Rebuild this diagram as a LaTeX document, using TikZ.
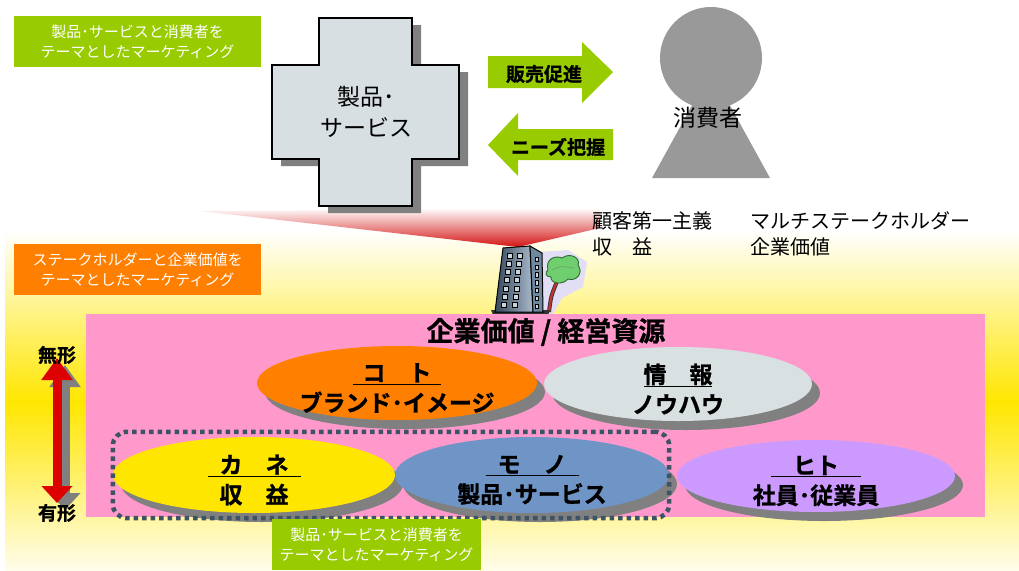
\documentclass[tikz,border=0pt]{standalone}
\usepackage{fontspec}
\setmainfont{Noto Sans CJK JP}[BoldFont={Noto Sans CJK JP Bold}, BoldFeatures={FakeBold=1}]
\usepackage{tikz}
\usetikzlibrary{
  arrows.meta,
  positioning,
  shapes.geometric,
  shadows,
  fit,
  calc,
}
\definecolor{themeGreen}{HTML}{99CC00}
\definecolor{themeOrange}{HTML}{FF8000}
\definecolor{crossFill}{HTML}{D7DFE2}
\definecolor{shadowGray}{HTML}{808080}
\definecolor{personGray}{HTML}{999999}
\definecolor{bandYellow}{HTML}{FFE600}
\definecolor{valuePink}{HTML}{FF99CC}
\definecolor{kotoOrange}{HTML}{FF8000}
\definecolor{infoGray}{HTML}{D8E0E2}
\definecolor{kaneYellow}{HTML}{FFE600}
\definecolor{monoBlue}{HTML}{6F94C6}
\definecolor{hitoViolet}{HTML}{CC99FF}
\definecolor{dotSlate}{HTML}{3E5364}
\definecolor{beamRed}{HTML}{D41414}
\definecolor{arrowRed}{HTML}{DD0000}
\definecolor{towerDark}{HTML}{34485C}
\definecolor{towerLight}{HTML}{A9BACA}
\definecolor{towerSide}{HTML}{6F88A0}
\definecolor{paneGray}{HTML}{C9D3DC}
\definecolor{treeGreen}{HTML}{6FCF6F}
\definecolor{treeDark}{HTML}{2E6B2E}
\definecolor{trunkRed}{HTML}{C83232}
\definecolor{haloLilac}{HTML}{E2DEF6}

% underlined heading with a fixed rule length
\newcommand{\resHead}[2]{\underline{\makebox[#1]{#2}}}

\tikzset{
  themeBox/.style={
    rectangle, fill=#1, text=white, inner sep=0pt, minimum height=51pt,
    align=center, font=\fontsize{15}{20}\selectfont,
  },
  flowText/.style={
    inner sep=0pt, font=\bfseries\fontsize{19}{22}\selectfont,
  },
  bigText/.style={
    inner sep=0pt, align=center, font=\fontsize{23}{31}\selectfont,
  },
  keyword/.style={
    anchor=west, inner sep=0pt, font=\fontsize{20}{22}\selectfont,
  },
  resource/.style={
    ellipse, fill=#1, minimum width=280pt, minimum height=74pt, inner sep=0pt,
    general shadow={fill=shadowGray, shadow xshift=8pt, shadow yshift=-9pt},
  },
  resText/.style={
    inner sep=0pt, align=center, yshift=-5pt,
    font=\bfseries\fontsize{23}{30}\selectfont,
  },
  dottedFrame/.style={
    draw=dotSlate, line width=4.5pt, dash pattern=on 4.5pt off 4pt,
    rounded corners=14pt,
  },
  rankArrow/.style={
    line width=9pt,
    {Triangle[length=22pt,width=30pt]}-{Triangle[length=17pt,width=30pt]},
  },
  rankLabel/.style={
    inner sep=0pt, font=\bfseries\fontsize{19}{20}\selectfont,
  },
  windowPane/.style={
    fill=paneGray, draw=black, line width=0.6pt,
  },
}

\begin{document}
\begin{tikzpicture}[x=1pt, y=-1pt]
\useasboundingbox (0,0) rectangle (1019,570);

% yellow band behind the lower half
\shade[top color=white, bottom color=bandYellow] (5,230) rectangle (1019,402);
\shade[top color=bandYellow, bottom color=white!92!bandYellow] (5,402) rectangle (1019,570);

% red beam falling onto the company
\shade[top color=white, bottom color=beamRed]
  (200,211) -- (600,208) -- (600,228) -- (518,247) -- cycle;

% product / service cross
\filldraw[fill=crossFill, draw=black, line width=1.1pt,
    general shadow={fill=shadowGray, shadow xshift=9pt, shadow yshift=-7pt}]
  (319,18) -- (412,18) -- (412,65) -- (459,65) -- (459,159) -- (412,159)
  -- (412,206) -- (319,206) -- (319,159) -- (272,159) -- (272,65)
  -- (319,65) -- cycle;
\node[bigText] (crossText) at (366,112) {製品･\\サービス};

% consumer figure
\fill[personGray] (711,58) circle (51);
\fill[personGray] (695,100) -- (727,100) -- (770,178) -- (652,178) -- cycle;
\node[bigText] (consumer) at (708,118) {消費者};

% green arrows between product and consumer
\fill[themeGreen] (488,56) -- (582,56) -- (582,42) -- (613,72)
  -- (582,103) -- (582,88) -- (488,88) -- cycle;
\fill[themeGreen] (613,129) -- (518,129) -- (518,113) -- (488,145)
  -- (518,176) -- (518,160) -- (613,160) -- cycle;
\node[flowText] (sales) at (544,74) {販売促進};
\node[flowText] (needs) at (558,147) {ニーズ把握};

% keywords under the consumer
\node[keyword] (creed)      at (592,221) {顧客第一主義};
\node[keyword] (multiStake) at (750,221) {マルチステークホルダー};
\node[keyword] (profit)     at (592,247) {収　益};
\node[keyword] (corpValue)  at (750,247) {企業価値};

% theme labels
\node[themeBox=themeGreen, minimum width=247pt] (themeProduct) at (137.5,41.5)
  {製品･サービスと消費者を\\テーマとしたマーケティング};
\node[themeBox=themeOrange, minimum width=247pt] (themeStake) at (137.5,269.5)
  {ステークホルダーと企業価値を\\テーマとしたマーケティング};

% company building with tree
\fill[haloLilac] (538,252) -- (568,250) -- (587,262) -- (583,287)
  -- (562,298) -- (553,314) -- (540,314) -- cycle;
\draw[line width=4pt, black!80] (549,312) .. controls (551,296) .. (558,279);
\draw[line width=2.2pt, trunkRed] (549,312) .. controls (551,296) .. (558,279);
\filldraw[fill=treeGreen, draw=treeDark, line width=0.9pt]
  (548,270) .. controls (545,259) and (555,255) .. (562,258)
  .. controls (570,252) and (581,258) .. (578,265)
  .. controls (584,273) and (576,282) .. (568,279)
  .. controls (562,286) and (550,283) .. (551,277)
  .. controls (545,277) and (545,272) .. (548,270) -- cycle;
\draw[treeDark!70, line width=0.5pt] (552,270) .. controls (560,266) .. (574,268);
\fill[black!80] (491,310) -- (550,310) -- (548,315) -- (493,315) -- cycle;
\filldraw[left color=towerDark, right color=towerLight, draw=black, line width=1pt]
  (503,248) -- (530,246) -- (533,312) -- (495,312) -- cycle;
\filldraw[fill=towerSide, draw=black, line width=1pt]
  (530,246) -- (542,253) -- (543,312) -- (533,312) -- cycle;
\foreach \r in {0,...,6} {
  \filldraw[windowPane] ({507-1.0*\r},{253+8.2*\r}) rectangle +(5,5);
  \filldraw[windowPane] ({517-0.8*\r},{253+8.2*\r}) rectangle +(5,5);
  \filldraw[windowPane] ({535+0.1*\r},{257+7.8*\r}) rectangle +(3,4.5);
}

% corporate value / management resources
\fill[valuePink] (86,314) rectangle (985,517);
\node[font=\bfseries\fontsize{27}{30}\selectfont, inner sep=0pt]
  (valueTitle) at (546,332) {企業価値 / 経営資源};

\node[resource=kotoOrange] (koto) at (397,383) {};
\node[resource=infoGray, minimum width=268pt] (info) at (678,384) {};
\node[resText] at (koto) {\resHead{88pt}{コ　ト}\\ブランド･イメージ};
\node[resText] at (info) {\resHead{68pt}{情　報}\\ノウハウ};

\node[resource=kaneYellow, minimum width=282pt, minimum height=76pt] (kane) at (254,475) {};
\node[resource=monoBlue, minimum width=274pt, minimum height=76pt] (mono) at (532,475) {};
\node[resource=hitoViolet, minimum width=278pt, minimum height=72pt] (hito) at (816,476) {};
\node[resText] at (kane) {\resHead{93pt}{カ　ネ}\\収　益};
\node[resText] at (mono) {\resHead{93pt}{モ　ノ}\\製品･サービス};
\node[resText] at (hito) {\resHead{90pt}{ヒト}\\社員･従業員};

% tangible resources grouped
\node[dottedFrame, fit=(kane) (mono), inner xsep=0pt, inner ysep=5pt] (tangibleGroup) {};

% intangible <-> tangible scale
\coordinate (intangTop) at (57,355);
\coordinate (tangBottom) at (57,513);
\draw[rankArrow, draw=shadowGray, fill=shadowGray, transform canvas={shift={(8pt,-7pt)}}]
  ($(intangTop)+(0,3)$) -- ($(tangBottom)+(0,-10)$);
\draw[rankArrow, draw=arrowRed, fill=arrowRed]
  ($(intangTop)+(0,3)$) -- ($(tangBottom)+(0,-10)$);
\node[rankLabel] (intangible) at (intangTop) {無形};
\node[rankLabel] (tangible) at (tangBottom) {有形};

\node[themeBox=themeGreen, minimum width=209pt] (themeBottom) at (376.5,544.5)
  {製品･サービスと消費者を\\テーマとしたマーケティング};

\end{tikzpicture}
\end{document}
